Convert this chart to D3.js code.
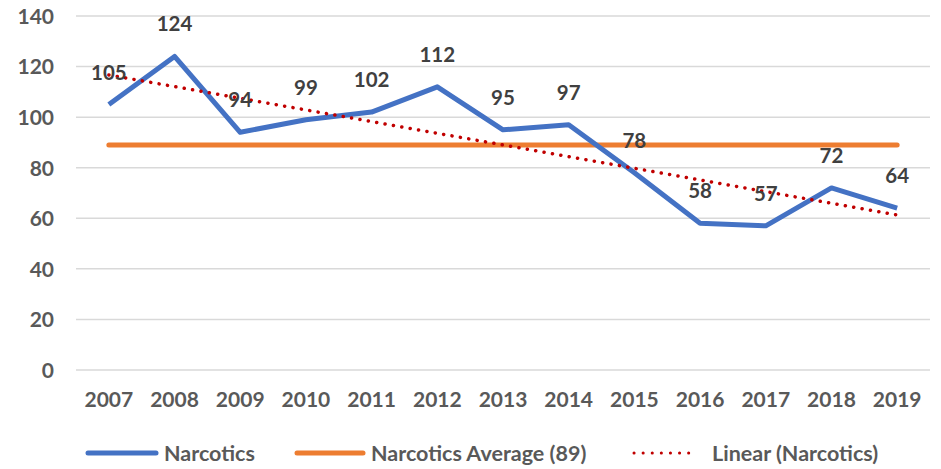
<!DOCTYPE html>
<html>
<head>
<meta charset="utf-8">
<script src="https://cdn.jsdelivr.net/npm/d3@7"></script>
<style>
  body { margin: 0; background: #fff; }
  text { font-family: Lato, "Open Sans", sans-serif; font-weight: bold; }
</style>
</head>
<body>
<div id="chart"></div>
<script>
var years = ["2007", "2008", "2009", "2010", "2011", "2012", "2013", "2014", "2015", "2016", "2017", "2018", "2019"];
var narcotics = [105, 124, 94, 99, 102, 112, 95, 97, 78, 58, 57, 72, 64];
var average = 89;
var yTicks = [0, 20, 40, 60, 80, 100, 120, 140];
var legendNames = ["Narcotics", "Narcotics Average (89)", "Linear (Narcotics)"];

var width = 941;
var height = 469;

var svg = d3.select("#chart")
  .append("svg")
  .attr("width", width)
  .attr("height", height);

var xScale = d3.scaleBand()
  .domain(years)
  .range([76, 930]);

var yScale = d3.scaleLinear()
  .domain([0, 140])
  .range([370, 16]);

var cx = d => xScale(d) + xScale.bandwidth() / 2;

// gridlines
svg.append("g")
  .selectAll("line")
  .data(yTicks)
  .enter()
  .append("line")
  .attr("x1", 76)
  .attr("x2", 930)
  .attr("y1", d => yScale(d))
  .attr("y2", d => yScale(d))
  .attr("stroke", "#d9d9d9")
  .attr("stroke-width", 1.5);

// y axis labels
var yAxis = d3.axisLeft(yScale).tickValues(yTicks).tickSize(0).tickPadding(0);
svg.append("g")
  .attr("transform", "translate(54,0)")
  .call(yAxis)
  .call(g => g.select(".domain").remove())
  .selectAll("text")
  .attr("fill", "#595959")
  .attr("font-size", 21)
  .attr("font-family", "Lato, sans-serif")
  .attr("dy", "0.35em");

// x axis labels
var xAxis = d3.axisBottom(xScale).tickSize(0).tickPadding(0);
svg.append("g")
  .attr("transform", "translate(0,392)")
  .call(xAxis)
  .call(g => g.select(".domain").remove())
  .selectAll("text")
  .attr("fill", "#595959")
  .attr("font-size", 21)
  .attr("font-family", "Lato, sans-serif")
  .attr("dy", "0.71em");

// average line
svg.append("line")
  .attr("x1", cx(years[0]))
  .attr("x2", cx(years[years.length - 1]))
  .attr("y1", yScale(average))
  .attr("y2", yScale(average))
  .attr("stroke", "#ED7D31")
  .attr("stroke-width", 5)
  .attr("stroke-linecap", "round");

// narcotics line
var line = d3.line()
  .x((d, i) => cx(years[i]))
  .y(d => yScale(d));

svg.append("path")
  .datum(narcotics)
  .attr("d", line)
  .attr("fill", "none")
  .attr("stroke", "#4472C4")
  .attr("stroke-width", 5)
  .attr("stroke-linejoin", "round");

// linear trendline (least squares over the series)
var idx = narcotics.map((d, i) => i);
var mx = d3.mean(idx);
var my = d3.mean(narcotics);
var slope = d3.sum(idx, i => (i - mx) * (narcotics[i] - my)) / d3.sum(idx, i => (i - mx) * (i - mx));
var trend = [0, years.length - 1].map(i => ({ i: i, v: my + slope * (i - mx) }));

svg.append("line")
  .attr("x1", cx(years[trend[0].i]))
  .attr("y1", yScale(trend[0].v))
  .attr("x2", cx(years[trend[1].i]))
  .attr("y2", yScale(trend[1].v))
  .attr("stroke", "#C00000")
  .attr("stroke-width", 3.5)
  .attr("stroke-linecap", "round")
  .attr("stroke-dasharray", "0.1 8.4");

// data labels
svg.append("g")
  .selectAll("text")
  .data(narcotics)
  .enter()
  .append("text")
  .text(d => d)
  .attr("x", (d, i) => cx(years[i]))
  .attr("y", d => yScale(d) - 25)
  .attr("text-anchor", "middle")
  .attr("font-size", 20.5)
  .attr("fill", "#404040");

// legend
var legendY = 453;
var legend = svg.append("g");

legend.append("line")
  .attr("x1", 88).attr("x2", 156)
  .attr("y1", legendY).attr("y2", legendY)
  .attr("stroke", "#4472C4").attr("stroke-width", 5).attr("stroke-linecap", "round");
legend.append("text")
  .text(legendNames[0])
  .attr("x", 164).attr("y", legendY).attr("dy", "0.35em")
  .attr("font-size", 21.5).attr("fill", "#595959");

legend.append("line")
  .attr("x1", 297).attr("x2", 363)
  .attr("y1", legendY).attr("y2", legendY)
  .attr("stroke", "#ED7D31").attr("stroke-width", 5).attr("stroke-linecap", "round");
legend.append("text")
  .text(legendNames[1])
  .attr("x", 371).attr("y", legendY).attr("dy", "0.35em")
  .attr("font-size", 21.5).attr("fill", "#595959");

legend.append("line")
  .attr("x1", 634).attr("x2", 697)
  .attr("y1", legendY).attr("y2", legendY)
  .attr("stroke", "#C00000").attr("stroke-width", 3)
  .attr("stroke-linecap", "round").attr("stroke-dasharray", "0.1 9");
legend.append("text")
  .text(legendNames[2])
  .attr("x", 712).attr("y", legendY).attr("dy", "0.35em")
  .attr("font-size", 21.5).attr("fill", "#595959");
</script>
</body>
</html>
